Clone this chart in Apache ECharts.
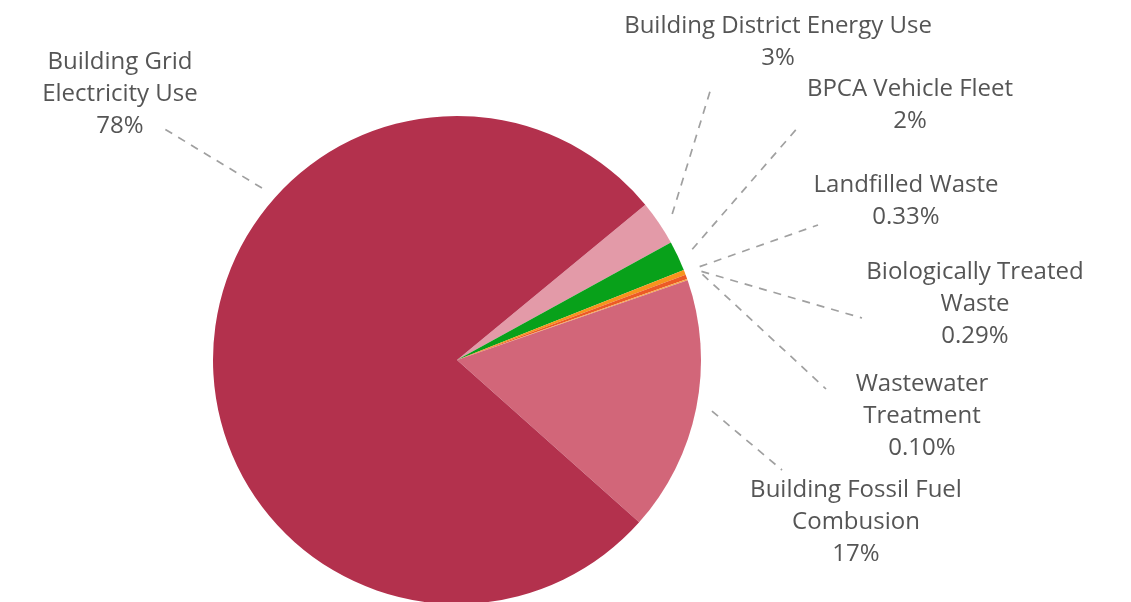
<!DOCTYPE html>
<html>
<head>
<meta charset="utf-8">
<script src="https://cdn.jsdelivr.net/npm/echarts@6/dist/echarts.min.js"></script>
<style>
  html, body { margin: 0; padding: 0; background: #fff; }
  #chart { width: 1131px; height: 602px; }
</style>
</head>
<body>
<div id="chart"></div>
<script>
// slices, in clockwise order starting at the district energy slice
const names = [
  'Building District Energy Use',
  'BPCA Vehicle Fleet',
  'Landfilled Waste',
  'Biologically Treated\nWaste',
  'Wastewater\nTreatment',
  'Building Fossil Fuel\nCombusion',
  'Building Grid\nElectricity Use'
]
const values = [3, 2, 0.33, 0.29, 0.10, 17, 78]
const colors = ['#e39aa8', '#08a11a', '#f7941d', '#ec5a26', '#f7a94a', '#d26679', '#b3314d']

// label layout: centre of each text block, and where its leader line stops (offset from that centre)
const labelPos = [
  [778, 42], [910, 105], [906, 201], [975, 304], [922, 416], [856, 522], [120, 94]
]
const leaderEnd = [
  [-66, 43], [-110, 20], [-88, 24], [-113, 14], [-96, -27], [-74, -52], [43, 34]
]
// the grid slice's leader leaves the pie at the upper left instead of its mid angle
const leaderAngle = [null, null, null, null, null, null, 138.6]

const cx = 457, cy = 360, R = 244, gap = 16

const chart = echarts.init(document.getElementById('chart'))

const data = names.map((n, i) => ({
  name: n,
  value: values[i],
  itemStyle: { color: colors[i] }
}))

chart.setOption({
  animation: false,
  series: [{
    type: 'pie',
    center: [cx, cy],
    radius: [0, R],
    startAngle: 39.5,
    clockwise: true,
    avoidLabelOverlap: false,
    data: data,
    itemStyle: { borderWidth: 0 },
    label: {
      show: true,
      formatter: p => p.name + '\n' + (p.value < 1 ? p.value.toFixed(2) : p.value) + '%',
      fontFamily: 'Open Sans',
      fontSize: 24,
      lineHeight: 32,
      color: '#555555',
      align: 'center'
    },
    labelLine: {
      show: true,
      length: 20,
      length2: 10,
      lineStyle: { color: '#a0a0a0', width: 1.7, type: [8, 7] }
    },
    labelLayout: function (params) {
      const i = params.dataIndex
      const p = labelPos[i]
      let dx, dy
      if (leaderAngle[i] != null) {
        const a = leaderAngle[i] * Math.PI / 180
        dx = Math.cos(a); dy = -Math.sin(a)
      } else {
        const p0 = params.labelLinePoints[0]
        const len = Math.hypot(p0[0] - cx, p0[1] - cy)
        dx = (p0[0] - cx) / len; dy = (p0[1] - cy) / len
      }
      const start = [cx + dx * (R + gap), cy + dy * (R + gap)]
      const end = [p[0] + leaderEnd[i][0], p[1] + leaderEnd[i][1]]
      return {
        x: p[0],
        y: p[1],
        align: 'center',
        verticalAlign: 'middle',
        labelLinePoints: [start, end]
      }
    },
    emphasis: { disabled: true }
  }]
})
</script>
</body>
</html>
